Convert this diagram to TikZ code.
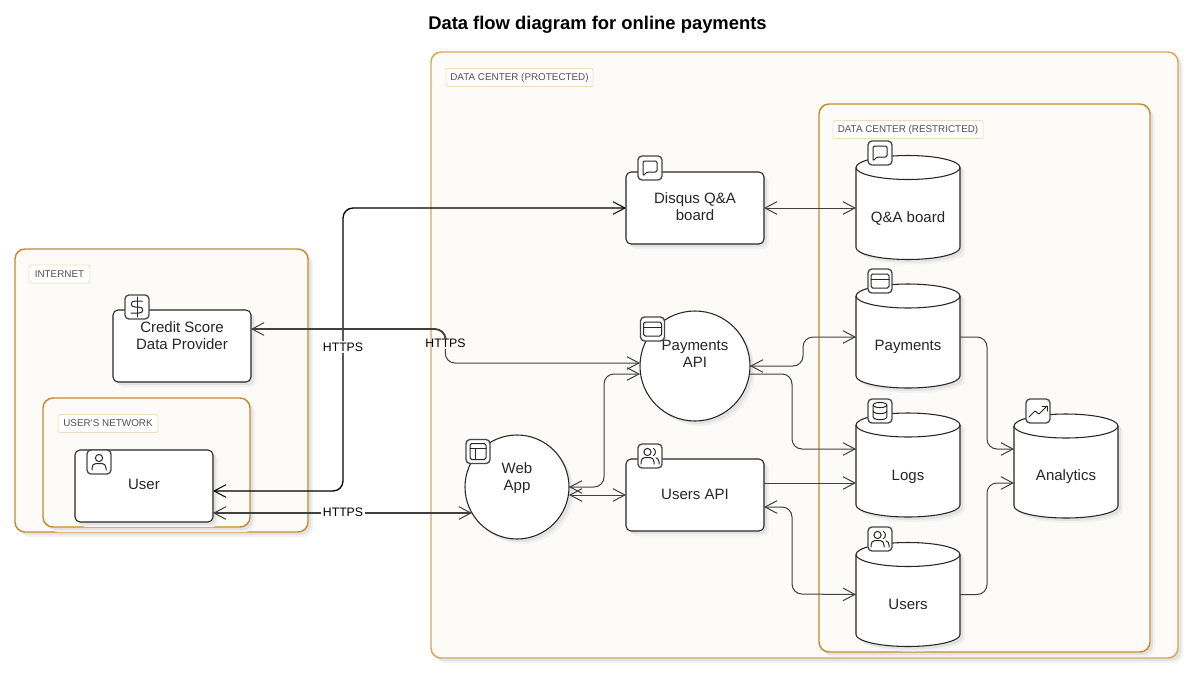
\documentclass[tikz,border=0pt]{standalone}
\usepackage{fontspec}
\setmainfont{Liberation Sans}
\usetikzlibrary{arrows.meta,shapes.geometric,shadows,calc}
\definecolor{groupfill}{HTML}{FCFBF7}
\definecolor{groupline}{HTML}{C88A2E}
\definecolor{paleline}{HTML}{D9A55A}
\definecolor{chipline}{HTML}{F1DDBE}
\definecolor{ink}{HTML}{262626}
\definecolor{linkgray}{HTML}{404040}
\def\px{0.75pt}
\newcommand{\lift}[2]{\raisebox{\dimexpr #1pt*3/4-4.5pt\relax}[0pt][0pt]{\begin{tabular}{@{}c@{}}#2\end{tabular}}}
\tikzset{
  softshadow/.style={
    preaction={draw=none,fill=black!5,transform canvas={xshift=5*\px,yshift=-5*\px}},
    preaction={draw=none,fill=black!11,transform canvas={xshift=3*\px,yshift=-3*\px}}},
  groupbox/.style={draw=groupline,line width=1.1pt,fill=groupfill,rounded corners=10*\px,inner sep=0pt,outer sep=0pt,softshadow},
  chip/.style={draw=chipline,line width=.7pt,fill=white,rounded corners=1.5pt,inner sep=0pt,outer sep=0pt,minimum height=18*\px,text=ink!80,font=\fontsize{7.4}{9}\selectfont},
  procbox/.style={draw=ink,line width=.8pt,fill=white,rounded corners=5*\px,inner sep=0pt,outer sep=0pt,minimum width=138*\px,minimum height=72*\px,text=ink,font=\fontsize{11.25}{12.75}\selectfont,softshadow},
  proccircle/.style={circle,draw=ink,line width=.8pt,fill=white,inner sep=0pt,outer sep=0pt,text=ink,font=\fontsize{11.25}{12.75}\selectfont,softshadow},
  store/.style={inner sep=0pt,outer sep=0pt,minimum width=104*\px,minimum height=104*\px,text=ink,font=\fontsize{11.25}{12.75}\selectfont},
  iconbox/.style={draw=ink!85,line width=1pt,fill=white,rounded corners=4*\px,inner sep=0pt,outer sep=0pt,minimum size=24*\px},
  glyph/.style={draw=ink,line width=.75pt,line cap=round,line join=round},
  link/.style={draw=linkgray,line width=.75pt,rounded corners=10*\px},
  linkb/.style={link,draw=black,line width=1pt},
  linkc/.style={link,line width=1.4pt},
  both/.style={{Straight Barb[length=9pt,width=9.5pt,line width=.75pt]}-{Straight Barb[length=9pt,width=9.5pt,line width=.75pt]}},
  head/.style={-{Straight Barb[length=9pt,width=9.5pt,line width=.75pt]}},
  tail/.style={{Straight Barb[length=9pt,width=9.5pt,line width=.75pt]}-},
  flowlabel/.style={inner sep=1pt,text=black,font=\fontsize{9.2}{11}\selectfont},
  pics/storebody/.style={code={
    \path[draw=ink,line width=.8pt,fill=white,softshadow] (-52,-40) -- (-52,40) .. controls (-52,46.6) and (-28.7,52) .. (0,52) .. controls (28.7,52) and (52,46.6) .. (52,40) -- (52,-40) .. controls (52,-46.6) and (28.7,-52) .. (0,-52) .. controls (-28.7,-52) and (-52,-46.6) .. (-52,-40) -- cycle;
    \draw[draw=ink,line width=.8pt] (-52,-40) .. controls (-52,-33.4) and (-28.7,-28) .. (0,-28) .. controls (28.7,-28) and (52,-33.4) .. (52,-40);}},
  pics/icard/.style={code={\draw[glyph,rounded corners=1.2pt] (-9,-7) rectangle (9,7); \draw[glyph] (-9,-2) -- (9,-2);}},
  pics/imsg/.style={code={\draw[glyph,rounded corners=1pt] (-7,8) -- (-7,-7) -- (7,-7) -- (7,4) -- (-3,4) -- cycle;}},
  pics/idollar/.style={code={\draw[glyph] (0,-10) -- (0,10); \draw[glyph] (5.5,-6) -- (-2,-6) .. controls (-7,-6) and (-7,0) .. (-2,0) -- (2,0) .. controls (7,0) and (7,6) .. (2,6) -- (-6,6);}},
  pics/iuser/.style={code={\draw[glyph] (0,-4) circle[radius=3.6*\px]; \draw[glyph] (-7,8) -- (-7,6) .. controls (-7,3) and (-5,1.5) .. (-3,1.5) -- (3,1.5) .. controls (5,1.5) and (7,3) .. (7,6) -- (7,8);}},
  pics/iusers/.style={code={\draw[glyph] (-2.5,-4) circle[radius=3.6*\px]; \draw[glyph] (-9,8) -- (-9,6) .. controls (-9,3) and (-7,1.5) .. (-5,1.5) -- (0,1.5) .. controls (2,1.5) and (4,3) .. (4,6) -- (4,8); \draw[glyph] (3.5,-7.5) .. controls (6,-6.5) and (6,-1.5) .. (3.5,-.5); \draw[glyph] (6,1.8) .. controls (8,2.5) and (9,4) .. (9,6) -- (9,8);}},
  pics/ilayout/.style={code={\draw[glyph,rounded corners=1.2pt] (-8,-8) rectangle (8,8); \draw[glyph] (-8,-3) -- (8,-3); \draw[glyph] (-2.5,-3) -- (-2.5,8);}},
  pics/idb/.style={code={\draw[glyph] (0,-6) ellipse[x radius=6.8*\px,y radius=2.6*\px]; \draw[glyph] (-6.8,-6) -- (-6.8,6) .. controls (-6.8,9.5) and (6.8,9.5) .. (6.8,6) -- (6.8,-6); \draw[glyph] (-6.8,0) .. controls (-6.8,3.5) and (6.8,3.5) .. (6.8,0);}},
  pics/itrend/.style={code={\draw[glyph] (-9,6) -- (-3,0) -- (1,3) -- (9,-5); \draw[glyph] (4,-5) -- (9,-5) -- (9,0);}},
}
\begin{document}
\begin{tikzpicture}[x=0.75pt,y=-0.75pt]
\useasboundingbox (0,0) rectangle (1193,672);
\fill[white] (0,0) rectangle (1193,672);
\node[anchor=west,text=black,font=\bfseries\fontsize{13.8}{16}\selectfont,inner sep=0pt] (title) at (428,24.5) {Data flow diagram for online payments};

% groups
\node[groupbox,minimum width=293*\px,minimum height=283*\px] (internet) at (161.5,390.5) {};
\node[groupbox,minimum width=207*\px,minimum height=129*\px] (usernet) at (146.5,462.5) {};
\node[groupbox,draw=paleline,minimum width=747*\px,minimum height=606*\px] (protected) at (804.5,355) {};
\node[groupbox,minimum width=331*\px,minimum height=548*\px] (restricted) at (984.5,378) {};
\node[chip,minimum width=61*\px] (chipa) at (59.5,274) {INTERNET};
\node[chip,minimum width=100*\px] (chipb) at (108,423.5) {USER'S NETWORK};
\node[chip,minimum width=147*\px] (chipc) at (519.5,77.5) {DATA CENTER (PROTECTED)};
\node[chip,minimum width=150*\px] (chipd) at (908,129.5) {DATA CENTER (RESTRICTED)};

% nodes
\node[procbox] (credit) at (182,346) {\lift{10.5}{Credit Score\\Data Provider}};
\node[procbox] (user) at (144,486) {\lift{2}{User}};
\node[procbox] (disqus) at (695,208) {\lift{2}{Disqus Q\&A\\board}};
\node[procbox] (usersapi) at (695,495) {\lift{1}{Users API}};
\node[proccircle,minimum size=110*\px] (payapi) at (695,366) {\lift{12.5}{Payments\\API}};
\node[proccircle,minimum size=104*\px] (webapp) at (517,487) {\lift{10.5}{Web\\App}};
\pic at (908,207.5) {storebody};
\node[store] (qa) at (908,207.5) {\lift{-9}{Q\&A board}};
\pic at (908,336) {storebody};
\node[store] (payments) at (908,336) {\lift{-9}{Payments}};
\pic at (908,465) {storebody};
\node[store] (logs) at (908,465) {\lift{-9.5}{Logs}};
\pic at (908,594.5) {storebody};
\node[store] (users) at (908,594.5) {\lift{-9}{Users}};
\pic at (1066,466) {storebody};
\node[store] (analytics) at (1066,466) {\lift{-9}{Analytics}};

% connectors
\node[flowlabel,fill=white] (lbla) at (343,347) {HTTPS};
\node[flowlabel] (lblb) at (445.5,343) {HTTPS};
\node[flowlabel,fill=white] (lblc) at (343,513) {\raisebox{1.5pt}{HTTPS}};
\draw[linkb,tail] ([yshift=-5*\px]user.east) -- (343,491) -- (lbla.south);
\draw[linkb,head] (lbla.north) -- (343,208) -- (disqus.west);
\draw[linkc,tail] ([yshift=17*\px]credit.east) -- (445,329) -- (lblb.north);
\draw[link,head] (lblb.south) -- (445,363) -- ([xshift=-55*\px,yshift=3*\px]payapi.center);
\draw[linkc,tail] ([yshift=-27*\px]user.east) -- (lblc.west);
\draw[linkc,head] (lblc.east) -- (webapp.-150 |- lblc.east);
\draw[link,both] (webapp.east) -- (604,487) -- (604,374) -- ([xshift=-55*\px,yshift=-8*\px]payapi.center);
\draw[link,both] ([yshift=-8*\px]webapp.east) -- (usersapi.west);
\draw[link,both] (disqus.east) -- (disqus.east -| qa.west);
\draw[link,both] (payapi.east) -- (803,366) -- (803,337) -- ([yshift=-1*\px]payments.west);
\draw[link,head] ([xshift=-.5*\px,yshift=-8*\px]payapi.east) -- (792,374) -- (792,449) -- ([yshift=16*\px]logs.west);
\draw[link,head] ([yshift=12*\px]usersapi.east) -- ([yshift=-18*\px]logs.west);
\draw[link,both] ([yshift=-12*\px]usersapi.east) -- (792,507) -- (792,594) -- (users.west);
\draw[link,head] ([yshift=-1*\px]payments.east) -- (987,337) -- (987,449) -- ([yshift=17*\px]analytics.west);
\draw[link,head] (users.east) -- (987,594.5) -- (987,483) -- ([yshift=-17*\px]analytics.west);

% icons
\node[iconbox] (icredit) at (137,307) {};
\pic at (icredit) {idollar};
\node[iconbox] (iuser) at (99,462) {};
\pic at (iuser) {iuser};
\node[iconbox] (idisqus) at (650,168) {};
\pic at (idisqus) {imsg};
\node[iconbox] (ipayapi) at (652.5,329) {};
\pic at (ipayapi) {icard};
\node[iconbox] (iweb) at (478,451.5) {};
\pic at (iweb) {ilayout};
\node[iconbox] (iusersapi) at (650,456) {};
\pic at (iusersapi) {iusers};
\node[iconbox] (iqa) at (880,153) {};
\pic at (iqa) {imsg};
\node[iconbox] (ipay) at (880,281) {};
\pic at (ipay) {icard};
\node[iconbox] (ilogs) at (880,411) {};
\pic at (ilogs) {idb};
\node[iconbox] (iusers) at (880,539) {};
\pic at (iusers) {iusers};
\node[iconbox] (ianalytics) at (1038,411) {};
\pic at (ianalytics) {itrend};
\end{tikzpicture}
\end{document}
